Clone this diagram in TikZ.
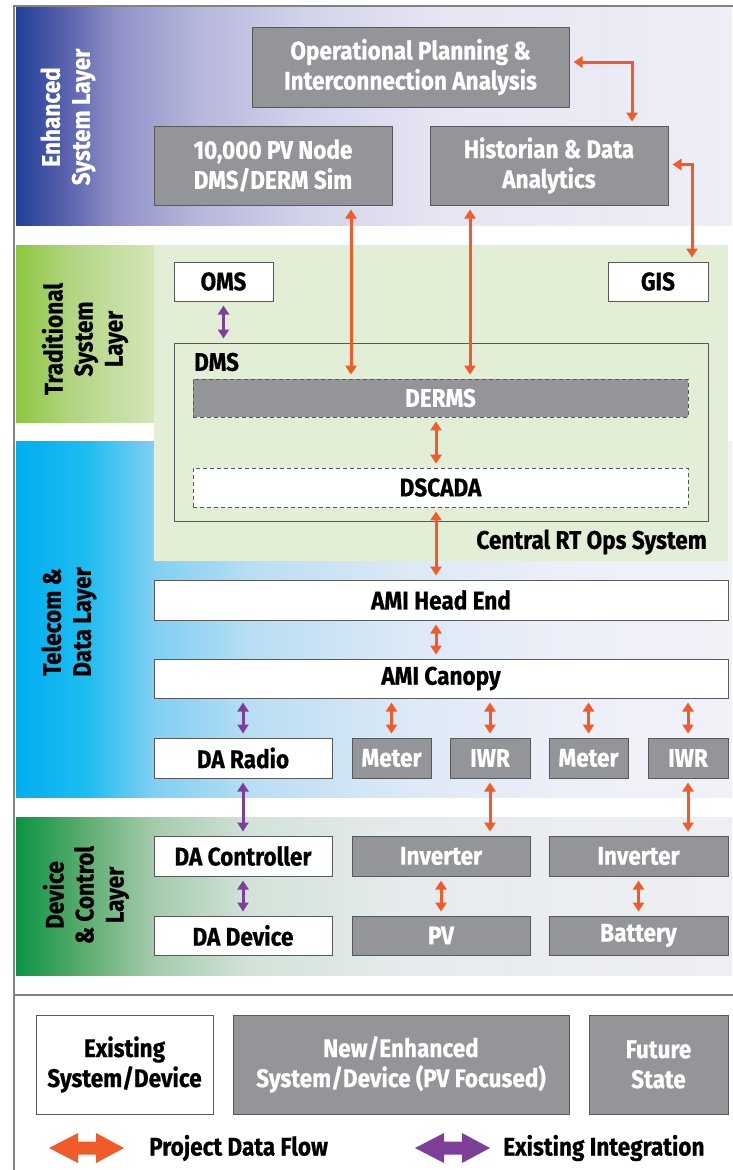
\documentclass[tikz,border=0pt]{standalone}
\usepackage{fontspec}
\setmainfont{Fira Sans}[FakeStretch=0.885, BoldFeatures={FakeBold=0.6}]
\usetikzlibrary{arrows.meta,calc}
\definecolor{gbox}{HTML}{939598}
\definecolor{gline}{HTML}{58595B}
\definecolor{frame}{HTML}{808285}
\definecolor{org}{HTML}{F15A29}
\definecolor{pur}{HTML}{7E3F98}
\definecolor{lgreen}{HTML}{E2EFD6}
\definecolor{e0}{HTML}{21409A}\definecolor{e1}{HTML}{5A62AD}\definecolor{e2}{HTML}{8F91C7}
\definecolor{e3}{HTML}{B5B6DB}\definecolor{e4}{HTML}{D2D3EA}\definecolor{e5}{HTML}{E6E6F3}\definecolor{e6}{HTML}{EEEEF7}
\definecolor{t0}{HTML}{8DC63F}\definecolor{t1}{HTML}{B2D582}\definecolor{t2}{HTML}{D3E6B9}
\definecolor{b0}{HTML}{00AEEF}\definecolor{b1}{HTML}{1FBDF0}\definecolor{b2}{HTML}{7FCFF2}
\definecolor{b3}{HTML}{B9DEF4}\definecolor{b4}{HTML}{DDE9F6}\definecolor{b5}{HTML}{EEF0F8}\definecolor{b6}{HTML}{F1F1F8}
\definecolor{d0}{HTML}{0B9444}\definecolor{d1}{HTML}{58AB6C}\definecolor{d2}{HTML}{A3CBAB}
\definecolor{d3}{HTML}{D3E3D9}\definecolor{d4}{HTML}{E6EBEE}\definecolor{d5}{HTML}{EEEFF4}
\pgfdeclarehorizontalshading{enhsh}{100bp}{color(0bp)=(e0); color(25bp)=(e0); color(28.5bp)=(e1); color(32bp)=(e2); color(37.5bp)=(e3); color(45bp)=(e4); color(55bp)=(e5); color(75bp)=(e6); color(100bp)=(e6)}
\pgfdeclarehorizontalshading{tradsh}{100bp}{color(0bp)=(t0); color(25bp)=(t0); color(45bp)=(t1); color(75bp)=(t2); color(100bp)=(t2)}
\pgfdeclarehorizontalshading{telsh}{100bp}{color(0bp)=(b0); color(25bp)=(b0); color(30bp)=(b1); color(34.5bp)=(b2); color(41.5bp)=(b3); color(52.5bp)=(b4); color(65bp)=(b5); color(75bp)=(b6); color(100bp)=(b6)}
\pgfdeclarehorizontalshading{devsh}{100bp}{color(0bp)=(d0); color(25bp)=(d0); color(29.5bp)=(d1); color(34.5bp)=(d2); color(41.5bp)=(d3); color(52.5bp)=(d4); color(75bp)=(d5); color(100bp)=(d5)}
\begin{document}
\begin{tikzpicture}[x=1pt,y=-1pt,
  font=\bfseries\fontsize{25.5}{30}\selectfont,
  box/.style={draw=gline, line width=1pt, inner sep=0pt, align=center, text=black, fill=white},
  newbox/.style={box, fill=gbox, text=white},
  dbox/.style={box, dashed, dash pattern=on 4pt off 3pt, line width=0.8pt},
  pf/.style={draw=org, line width=3pt, {Triangle[width=11pt,length=9pt]}-{Triangle[width=11pt,length=9pt]}, shorten <=4pt, shorten >=4pt},
  ei/.style={pf, draw=pur},
  lbl/.style={rotate=90, align=center, inner sep=0pt}
]
\useasboundingbox (0,0) rectangle (732,1170);
% layer bands
\shade[shading=enhsh] (16,7) rectangle (732,225);
\shade[shading=tradsh] (16,245) rectangle (154,422);
\shade[shading=telsh] (16,441) rectangle (732,797);
\shade[shading=devsh] (16,817) rectangle (732,975);
\fill[lgreen] (154,245) rectangle (728,561);
% frame
\draw[frame, line width=1.5pt] (14,1172) -- (14,6) -- (734,6);
\draw[frame, line width=1.5pt] (14,995) -- (734,995);
% layer labels
\node[lbl, text=white] (lenh) at (68,117) {Enhanced\\System Layer};
\node[lbl] (ltrad) at (85,339) {Traditional\\System\\Layer};
\node[lbl] (ltel) at (69,622) {Telecom \&\\Data Layer};
\node[lbl] (ldev) at (86,895) {Device\\\& Control\\Layer};
% enhanced layer
\node[newbox, minimum width=317pt, minimum height=80pt] (opia) at (410.5,67) {Operational Planning \&\\Interconnection Analysis};
\node[newbox, minimum width=238pt, minimum height=79pt] (sim) at (273,165.5) {10,000 PV Node\\DMS/DERM Sim};
\node[newbox, minimum width=238pt, minimum height=79pt] (hist) at (549,165.5) {Historian \& Data\\Analytics};
% traditional
\node[box, minimum width=99pt, minimum height=39pt] (oms) at (223.5,281.5) {OMS};
\node[box, minimum width=100pt, minimum height=39pt] (gis) at (658,281.5) {GIS};
\node[box, fill=none, minimum width=534pt, minimum height=178pt] (dms) at (441,432) {};
\node[anchor=west, inner sep=0pt] (dmsl) at (194,362) {DMS};
\node[dbox, fill=gbox, text=white, minimum width=495pt, minimum height=38pt] (derms) at (440.5,398) {DERMS};
\node[dbox, minimum width=495pt, minimum height=39pt] (dscada) at (440.5,487.5) {DSCADA};
\node[anchor=east, inner sep=0pt] (crt) at (707,542) {Central RT Ops System};
% telecom
\node[box, minimum width=574pt, minimum height=40pt] (head) at (441,600) {AMI Head End};
\node[box, minimum width=574pt, minimum height=39pt] (canopy) at (441,678.5) {AMI Canopy};
\node[box, minimum width=178pt, minimum height=40pt] (radio) at (243,758) {DA Radio};
\node[newbox, minimum width=79pt, minimum height=40pt] (meter1) at (391.5,758) {Meter};
\node[newbox, minimum width=80pt, minimum height=40pt] (iwr1) at (490,758) {IWR};
\node[newbox, minimum width=79pt, minimum height=40pt] (meter2) at (588.5,758) {Meter};
\node[newbox, minimum width=80pt, minimum height=40pt] (iwr2) at (688,758) {IWR};
% device
\node[box, minimum width=178pt, minimum height=40pt] (ctrl) at (243,856) {DA Controller};
\node[box, minimum width=178pt, minimum height=39pt] (dev) at (243,935.5) {DA Device};
\node[newbox, minimum width=178pt, minimum height=40pt] (inv1) at (441,856) {Inverter};
\node[newbox, minimum width=178pt, minimum height=39pt] (pv) at (441,935.5) {PV};
\node[newbox, minimum width=179pt, minimum height=40pt] (inv2) at (638.5,856) {Inverter};
\node[newbox, minimum width=179pt, minimum height=39pt] (batt) at (638.5,935.5) {Battery};
% legend
\node[box, minimum width=177pt, minimum height=99pt] (leg1) at (124.5,1064.5) {Existing\\System/Device};
\node[newbox, minimum width=336pt, minimum height=99pt] (leg2) at (401,1064.5) {New/Enhanced\\System/Device (PV Focused)};
\node[newbox, minimum width=139pt, minimum height=99pt] (leg3) at (658.5,1064.5) {Future\\State};
\fill[org] (49,1148) -- (78,1133) -- (78,1141.5) -- (96,1141.5) -- (96,1133) -- (124,1148) -- (96,1163) -- (96,1154.5) -- (78,1154.5) -- (78,1163) -- cycle;
\node[anchor=west, inner sep=0pt] (pdf) at (149,1148) {Project Data Flow};
\fill[pur] (415,1148) -- (444,1133) -- (444,1141.5) -- (462,1141.5) -- (462,1133) -- (490,1148) -- (462,1163) -- (462,1154.5) -- (444,1154.5) -- (444,1163) -- cycle;
\node[anchor=west, inner sep=0pt] (eint) at (503,1148) {Existing Integration};
% connectors
\coordinate (a1) at ($(sim.south)+(78,0)$);
\coordinate (a2) at ($(hist.south)+(-79,0)$);
\coordinate (a3) at ($(derms.south)+(-4.5,0)$);
\draw[pf] ([yshift=5pt]opia.east) -| ([xshift=83pt]hist.north);
\draw[pf] ([yshift=1pt]hist.east) -| ([xshift=34pt]gis.north);
\draw[pf] (a1) -- (a1 |- derms.north);
\draw[pf] (a2) -- (a2 |- derms.north);
\draw[ei] (oms.south) -- (oms.south |- dms.north);
\draw[pf] (a3) -- (a3 |- dscada.north);
\draw[pf] (a3 |- dscada.south) -- (a3 |- head.north);
\draw[pf] (a3 |- head.south) -- (a3 |- canopy.north);
\draw[ei] (radio.north |- canopy.south) -- (radio.north);
\draw[pf] (meter1.north |- canopy.south) -- (meter1.north);
\draw[pf] (iwr1.north |- canopy.south) -- (iwr1.north);
\draw[pf] (meter2.north |- canopy.south) -- (meter2.north);
\draw[pf] (iwr2.north |- canopy.south) -- (iwr2.north);
\draw[ei] (radio.south) -- (ctrl.north);
\draw[pf] (iwr1.south) -- (iwr1.south |- inv1.north);
\draw[pf] (iwr2.south) -- (iwr2.south |- inv2.north);
\draw[ei] (ctrl.south) -- (dev.north);
\draw[pf] (inv1.south) -- (pv.north);
\draw[pf] (inv2.south) -- (batt.north);
\end{tikzpicture}
\end{document}
